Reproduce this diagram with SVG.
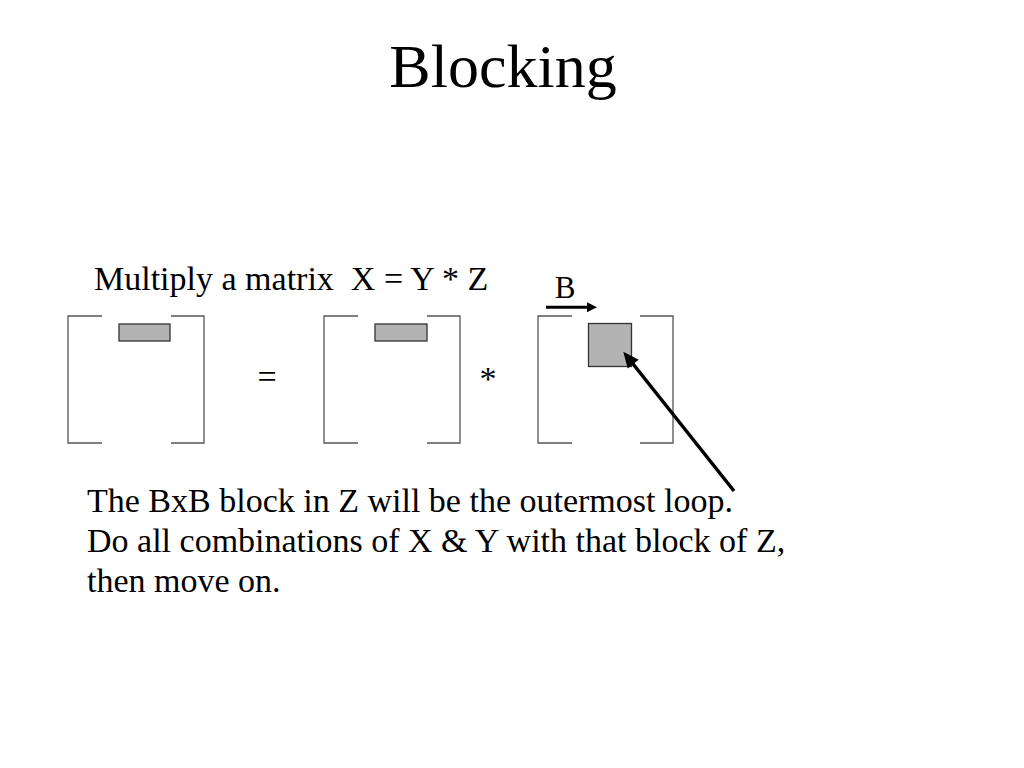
<svg xmlns="http://www.w3.org/2000/svg" width="1024" height="768" viewBox="0 0 1024 768">
<defs>
<style>
text{font-family:"Liberation Serif","Times New Roman",serif;fill:#000}
.br{fill:none;stroke:#555;stroke-width:1.3}
.blk{fill:#b3b3b3;stroke:#333;stroke-width:1.3}
.con{fill:none;stroke:#000}
</style>
<marker id="bigHead" markerUnits="userSpaceOnUse" viewBox="-2 -9 20 18" markerWidth="20" markerHeight="18" refX="6" refY="0" orient="auto" overflow="visible">
<path d="M0,-7 L16,0 L0,7 z" fill="#000"/>
</marker>
<marker id="smallHead" markerUnits="userSpaceOnUse" viewBox="-1 -6 12 12" markerWidth="12" markerHeight="12" refX="4" refY="0" orient="auto" overflow="visible">
<path d="M0,-5 L10,0 L0,5 z" fill="#000"/>
</marker>
</defs>
<rect width="1024" height="768" fill="#fff"/>
<g id="title"><text x="503" y="87" font-size="62" text-anchor="middle">Blocking</text></g>
<g id="caption"><text x="94" y="290" font-size="34" xml:space="preserve">Multiply a matrix  X = Y * Z</text></g>
<g id="matrixX">
<path class="br" d="M102,316 H68 V443 H102 M171,316 H204 V443 H171"/>
<rect class="blk" x="119" y="324" width="51" height="17"/>
</g>
<g id="equals"><text x="267" y="388" font-size="34" text-anchor="middle">=</text></g>
<g id="matrixY">
<path class="br" d="M358,316 H324 V443 H358 M427,316 H460 V443 H427"/>
<rect class="blk" x="375" y="324" width="52" height="17"/>
</g>
<g id="times"><text x="488" y="390" font-size="34" text-anchor="middle">*</text></g>
<g id="matrixZ">
<path class="br" d="M572,316 H538 V443 H572 M640,316 H673 V443 H640"/>
<rect class="blk" x="588.5" y="323.5" width="43" height="43"/>
</g>
<g id="labelB"><text x="565" y="298" font-size="31" text-anchor="middle">B</text></g>
<g id="connectors">
<line class="con" x1="546" y1="307.3" x2="591" y2="307.3" stroke-width="3" marker-end="url(#smallHead)"/>
<line class="con" x1="734" y1="491" x2="629.5" y2="359.5" stroke-width="3.5" marker-end="url(#bigHead)"/>
</g>
<g id="body" font-size="34">
<text x="87" y="512">The BxB block in Z will be the outermost loop.</text>
<text x="87" y="552">Do all combinations of X &amp; Y with that block of Z,</text>
<text x="87" y="592">then move on.</text>
</g>
</svg>
